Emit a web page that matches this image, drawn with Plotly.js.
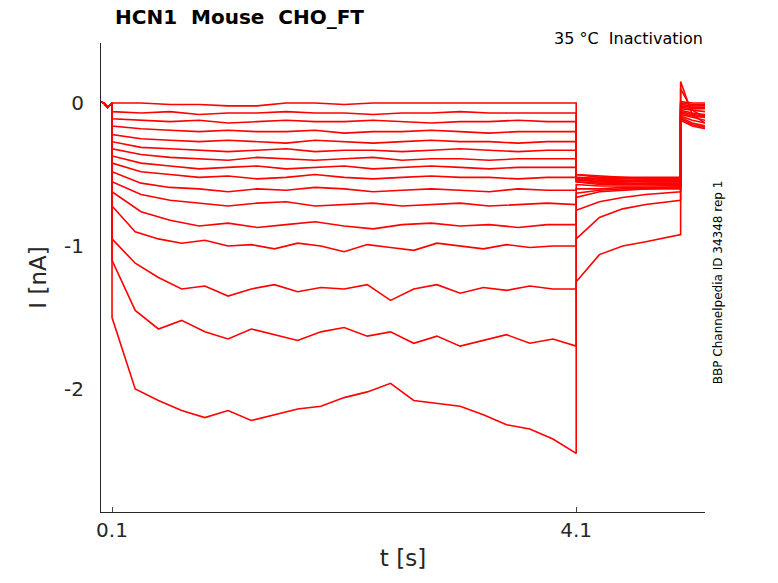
<!DOCTYPE html>
<html>
<head>
<meta charset="utf-8">
<script src="https://cdn.plot.ly/plotly-3.0.1.min.js"></script>
<style>body{margin:0;background:#fff}#plot{width:778px;height:583px}</style>
</head>
<body>
<div id="plot"></div>
<script>
// time points (s)
const tPre = [0, 0.03, 0.06, 0.1];
const tHoldS = [0.1,0.35,0.6,0.85,1.1,1.35,1.6,1.85,2.1,2.35,2.6,2.85,3.1,3.35,3.6,3.85,4.1];
const tHoldB = [0.1,0.3,0.5,0.7,0.9,1.1,1.3,1.5,1.7,1.9,2.1,2.3,2.5,2.7,2.9,3.1,3.3,3.5,3.7,3.9,4.1];
const tTail = [4.1, 4.3, 4.5, 4.7, 5.0];
const tPost = [5.0, 5.1, 5.21];
const preY = [0.01, 0.0, -0.03, 0.0];

// small sweeps (current, nA)
const smallHold = [
  [0,0,-0.01,-0.01,-0.02,-0.02,0,0,-0.01,0,0,0,0,0,0,0,0],
  [-0.06,-0.07,-0.06,-0.08,-0.07,-0.07,-0.06,-0.07,-0.07,-0.08,-0.07,-0.07,-0.06,-0.07,-0.07,-0.07,-0.07],
  [-0.11,-0.12,-0.13,-0.12,-0.14,-0.13,-0.12,-0.13,-0.13,-0.12,-0.13,-0.14,-0.13,-0.13,-0.12,-0.13,-0.13],
  [-0.16,-0.18,-0.19,-0.2,-0.19,-0.2,-0.2,-0.19,-0.21,-0.2,-0.2,-0.19,-0.2,-0.21,-0.2,-0.2,-0.2],
  [-0.22,-0.25,-0.26,-0.27,-0.26,-0.27,-0.28,-0.26,-0.27,-0.28,-0.27,-0.26,-0.27,-0.27,-0.28,-0.27,-0.27],
  [-0.27,-0.31,-0.32,-0.33,-0.34,-0.33,-0.32,-0.34,-0.33,-0.33,-0.34,-0.33,-0.32,-0.33,-0.34,-0.33,-0.33],
  [-0.32,-0.36,-0.38,-0.39,-0.4,-0.38,-0.39,-0.4,-0.39,-0.38,-0.4,-0.39,-0.39,-0.4,-0.39,-0.39,-0.39],
  [-0.37,-0.42,-0.44,-0.46,-0.45,-0.44,-0.46,-0.45,-0.44,-0.46,-0.45,-0.44,-0.45,-0.46,-0.45,-0.45,-0.45],
  [-0.42,-0.48,-0.5,-0.52,-0.51,-0.53,-0.52,-0.5,-0.52,-0.53,-0.52,-0.51,-0.52,-0.52,-0.53,-0.52,-0.52],
  [-0.48,-0.56,-0.59,-0.6,-0.62,-0.6,-0.61,-0.59,-0.6,-0.62,-0.61,-0.6,-0.61,-0.62,-0.6,-0.61,-0.61],
  [-0.55,-0.64,-0.68,-0.7,-0.72,-0.7,-0.69,-0.72,-0.71,-0.7,-0.72,-0.71,-0.7,-0.72,-0.71,-0.7,-0.71],
  [-0.62,-0.76,-0.82,-0.86,-0.84,-0.87,-0.85,-0.83,-0.86,-0.88,-0.85,-0.84,-0.86,-0.85,-0.87,-0.85,-0.85]
];
const smallTail = [
  [-0.5,-0.51,-0.52,-0.52,-0.52],[-0.5,-0.52,-0.52,-0.53,-0.53],[-0.52,-0.53,-0.53,-0.53,-0.53],
  [-0.52,-0.53,-0.54,-0.54,-0.54],[-0.53,-0.54,-0.54,-0.55,-0.55],[-0.53,-0.55,-0.55,-0.55,-0.55],
  [-0.54,-0.55,-0.56,-0.56,-0.56],[-0.55,-0.56,-0.56,-0.57,-0.57],[-0.55,-0.57,-0.57,-0.57,-0.58],
  [-0.57,-0.58,-0.58,-0.58,-0.58],[-0.6,-0.6,-0.59,-0.59,-0.59],[-0.66,-0.62,-0.61,-0.6,-0.6]
];
const smallPost = [
  [0.01,0.0,0.0],[0.0,-0.01,-0.01],[-0.01,-0.02,-0.02],[-0.02,-0.03,-0.03],[-0.03,-0.04,-0.04],[-0.04,-0.05,-0.06],
  [-0.05,-0.07,-0.08],[-0.06,-0.08,-0.09],[-0.07,-0.09,-0.1],[-0.08,-0.1,-0.12],[-0.09,-0.12,-0.14],[-0.1,-0.14,-0.16]
];

// large sweeps
const bigHold = [
  [-0.72,-0.9,-0.95,-0.98,-0.96,-1.0,-0.99,-1.02,-0.98,-1.0,-1.04,-0.99,-1.01,-1.03,-0.98,-1.0,-1.02,-0.99,-1.01,-1.0,-1.0],
  [-0.95,-1.12,-1.22,-1.3,-1.28,-1.35,-1.3,-1.27,-1.32,-1.29,-1.3,-1.27,-1.38,-1.3,-1.27,-1.33,-1.29,-1.31,-1.28,-1.3,-1.3],
  [-1.1,-1.45,-1.58,-1.52,-1.6,-1.65,-1.58,-1.62,-1.66,-1.6,-1.57,-1.63,-1.6,-1.68,-1.63,-1.7,-1.66,-1.62,-1.68,-1.65,-1.7],
  [-1.5,-2.0,-2.08,-2.15,-2.2,-2.15,-2.22,-2.18,-2.14,-2.12,-2.06,-2.02,-1.96,-2.08,-2.1,-2.12,-2.18,-2.25,-2.28,-2.35,-2.45]
];
const bigTail = [
  [-0.63,-0.61,-0.6,-0.6,-0.59],
  [-0.75,-0.69,-0.66,-0.64,-0.62],
  [-0.95,-0.8,-0.74,-0.71,-0.68],
  [-1.25,-1.06,-1.0,-0.97,-0.92]
];
const bigPost = [[-0.11,-0.15,-0.17],[-0.12,-0.16,-0.18],[0.1,-0.05,-0.1],[0.15,-0.08,-0.14]];

const traces = [];
function addSweep(tHold, hold, tail, post) {
  traces.push({
    x: [...tPre, ...tHold, ...tTail, ...tPost],
    y: [...preY, ...hold, ...tail, ...post],
    type: 'scatter', mode: 'lines', line: {color: 'red', width: 1.6}, hoverinfo: 'skip'
  });
}
smallHold.forEach((h, i) => addSweep(tHoldS, h, smallTail[i], smallPost[i]));
bigHold.forEach((h, i) => addSweep(tHoldB, h, bigTail[i], bigPost[i]));

Plotly.newPlot('plot', traces, {
  width: 778, height: 583, showlegend: false,
  margin: {l: 101, r: 73, t: 43, b: 71},
  font: {family: 'DejaVu Sans', color: '#262626'},
  plot_bgcolor: '#fff', paper_bgcolor: '#fff',
  xaxis: {range: [0.005, 5.21], tickvals: [0.1, 4.1], ticktext: ['0.1', '4.1'], ticks: 'inside', ticklen: 5,
          showgrid: false, zeroline: false, showline: true, linecolor: '#262626', tickfont: {size: 20},
          title: {text: 't [s]', font: {size: 23}, standoff: 8}},
  yaxis: {range: [-2.86, 0.42], tickvals: [-2, -1, 0], ticktext: ['-2', '-1', '0'], ticks: 'outside', ticklen: 12,
          tickcolor: 'rgba(0,0,0,0)',
          showgrid: false, zeroline: false, showline: true, linecolor: '#262626', tickfont: {size: 20},
          title: {text: 'I [nA]', font: {size: 23}, standoff: 10}},
  annotations: [
    {text: '<b>HCN1  Mouse  CHO_FT</b>', xref: 'paper', yref: 'paper', x: 0.02, y: 1.0, yshift: 12,
     xanchor: 'left', yanchor: 'bottom', showarrow: false, font: {size: 20, color: '#000'}},
    {text: '35 °C  Inactivation', xref: 'paper', yref: 'paper', x: 1, y: 1, yshift: 16, xanchor: 'right', yanchor: 'top',
     showarrow: false, font: {size: 16, color: '#000'}},
    {text: 'BBP Channelpedia ID 34348 rep 1', xref: 'paper', yref: 'paper', x: 1, xshift: 13, y: 0.49,
     textangle: -90, xanchor: 'center', yanchor: 'middle', showarrow: false, font: {size: 12, color: '#000'}}
  ]
}, {displayModeBar: false});
</script>
</body>
</html>
